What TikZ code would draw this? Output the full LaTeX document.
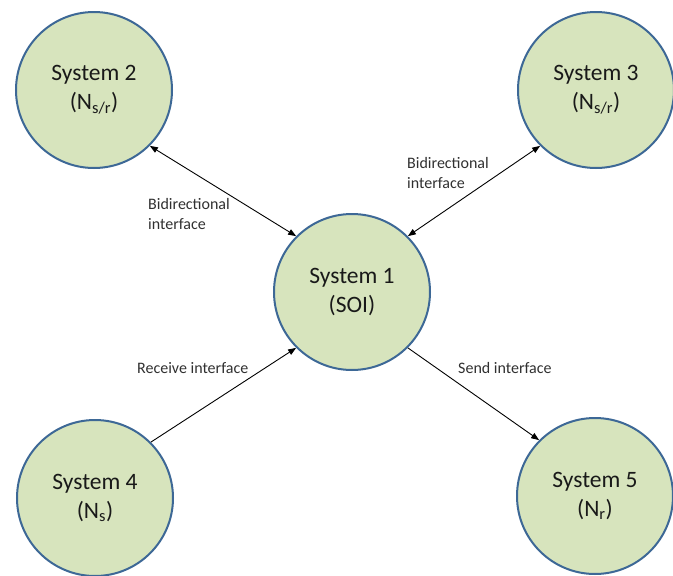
\documentclass[tikz,border=0pt]{standalone}
\usepackage{fontspec}
\setmainfont{Carlito}
\usetikzlibrary{arrows.meta}
\definecolor{sysfill}{HTML}{D7E4BD}
\definecolor{sysline}{HTML}{3D6896}
\definecolor{labeltext}{HTML}{303030}
\begin{document}
\begin{tikzpicture}[x=1pt,y=1pt,
  sysnode/.style={circle, draw=sysline, fill=sysfill, line width=2pt,
    minimum size=156pt, inner sep=0pt, align=center,
    font=\fontsize{23.5}{29}\selectfont, text=black!90},
  iflabel/.style={inner sep=0pt, align=left, text=labeltext,
    font=\fontsize{16}{20.5}\selectfont},
  link/.style={line width=0.9pt, black},
  tip/.style={-{Triangle[length=8pt,width=6pt]}},
  twotip/.style={{Triangle[length=8pt,width=6pt]}-{Triangle[length=8pt,width=6pt]}}]
\useasboundingbox (0,0) rectangle (673,-576);

% systems
\node[sysnode] (s1) at (352,-292) {System 1\\(SOI)};
\node[sysnode] (s2) at (94,-90) {System 2\\(N\textsubscript{s/r})};
\node[sysnode] (s3) at (596,-90) {System 3\\(N\textsubscript{s/r})};
\node[sysnode] (s4) at (95,-498) {System 4\\(N\textsubscript{s})};
\node[sysnode] (s5) at (595,-496) {System 5\\(N\textsubscript{r})};

% interfaces
\draw[link,twotip] (s2.-45) -- (s1.135);
\draw[link,twotip] (s3.225) -- (s1.45);
\draw[link,tip] (s4.45) -- (s1.225);
\draw[link,tip] (s1.-45) -- (s5.135);

% interface labels
\node[iflabel, anchor=west] (l21) at (148,-214) {Bidirectional\\interface};
\node[iflabel, anchor=west] (l31) at (407,-173) {Bidirectional\\interface};
\node[iflabel, anchor=base west] (l41) at (137,-373) {Receive interface};
\node[iflabel, anchor=base west] (l15) at (458,-373) {Send interface};
\end{tikzpicture}
\end{document}
